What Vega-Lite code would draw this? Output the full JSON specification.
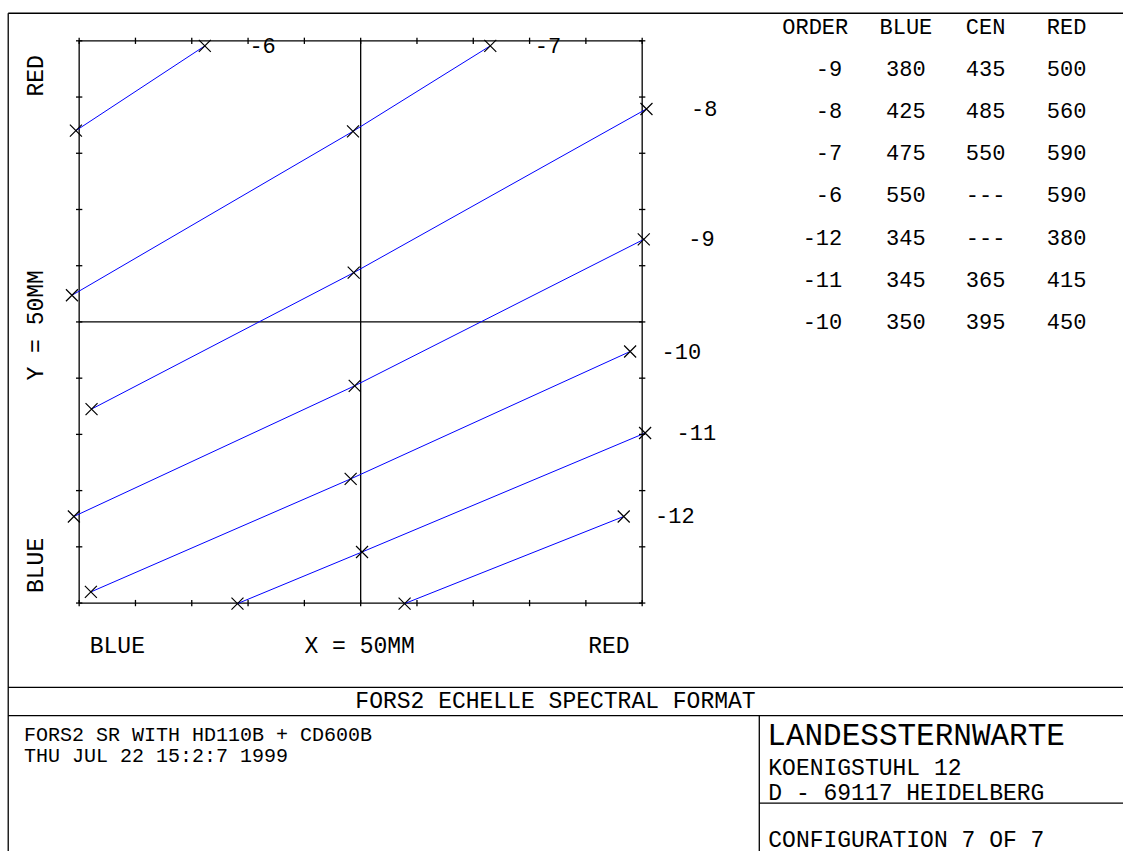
{
  "$schema": "https://vega.github.io/schema/vega-lite/v6.json",
  "width": 1124,
  "height": 853,
  "autosize": {"type": "fit", "contains": "padding"},
  "padding": 0,
  "background": "white",
  "config": {
    "view": {"stroke": null},
    "axis": {"disable": true},
    "text": {"font": "Liberation Mono", "color": "#000"}
  },
  "datasets": {
    "orders": [
      {"order": "-6", "end": "BLUE", "pt": 0, "x": -25.29, "y": 17.01},
      {"order": "-6", "end": "RED", "pt": 2, "x": -13.84, "y": 24.55},
      {"order": "-7", "end": "BLUE", "pt": 0, "x": -25.64, "y": 2.37},
      {"order": "-7", "end": "CEN", "pt": 1, "x": -0.68, "y": 16.95},
      {"order": "-7", "end": "RED", "pt": 2, "x": 11.51, "y": 24.55},
      {"order": "-8", "end": "BLUE", "pt": 0, "x": -23.9, "y": -7.75},
      {"order": "-8", "end": "CEN", "pt": 1, "x": -0.62, "y": 4.38},
      {"order": "-8", "end": "RED", "pt": 2, "x": 25.38, "y": 18.94},
      {"order": "-9", "end": "BLUE", "pt": 0, "x": -25.47, "y": -17.3},
      {"order": "-9", "end": "CEN", "pt": 1, "x": -0.53, "y": -5.68},
      {"order": "-9", "end": "RED", "pt": 2, "x": 25.14, "y": 7.34},
      {"order": "-10", "end": "BLUE", "pt": 0, "x": -23.96, "y": -24.01},
      {"order": "-10", "end": "CEN", "pt": 1, "x": -0.89, "y": -13.96},
      {"order": "-10", "end": "RED", "pt": 2, "x": 23.93, "y": -2.63},
      {"order": "-11", "end": "BLUE", "pt": 0, "x": -10.94, "y": -25.05},
      {"order": "-11", "end": "CEN", "pt": 1, "x": 0.12, "y": -20.46},
      {"order": "-11", "end": "RED", "pt": 2, "x": 25.26, "y": -9.88},
      {"order": "-12", "end": "BLUE", "pt": 0, "x": 3.9, "y": -25.05},
      {"order": "-12", "end": "RED", "pt": 2, "x": 23.36, "y": -17.3}
    ],
    "segments": [
      {"x": -31.3, "y": 27.45, "x2": 67.7, "y2": 27.45},
      {"x": -31.3, "y": 27.45, "x2": -31.3, "y2": -47.05},
      {"x": -31.3, "y": -32.5, "x2": 67.7, "y2": -32.5},
      {"x": -31.3, "y": -35.01, "x2": 67.7, "y2": -35.01},
      {"x": 35.4, "y": -35.01, "x2": 35.4, "y2": -47.05},
      {"x": 35.4, "y": -42.8, "x2": 67.7, "y2": -42.8},
      {"x": -25, "y": -25, "x2": 25, "y2": -25},
      {"x": -25, "y": 25, "x2": 25, "y2": 25},
      {"x": -25, "y": -25, "x2": -25, "y2": 25},
      {"x": 25, "y": -25, "x2": 25, "y2": 25},
      {"x": 0, "y": -25, "x2": 0, "y2": 25},
      {"x": -25, "y": 0, "x2": 25, "y2": 0}
    ],
    "tickpos": [
      {"pos": -25}, {"pos": -20}, {"pos": -15}, {"pos": -10}, {"pos": -5}, {"pos": 0},
      {"pos": 5}, {"pos": 10}, {"pos": 15}, {"pos": 20}, {"pos": 25}
    ],
    "vlabels": [
      {"label": "RED", "x": -28.84, "y": 21.89},
      {"label": "Y = 50MM", "x": -28.84, "y": -0.3},
      {"label": "BLUE", "x": -28.84, "y": -21.65}
    ],
    "hlabels": [
      {"label": "BLUE", "x": -21.61, "y": -28.78},
      {"label": "X = 50MM", "x": -0.09, "y": -28.78},
      {"label": "RED", "x": 22.05, "y": -28.78}
    ],
    "title": [
      {"label": "FORS2 ECHELLE SPECTRAL FORMAT", "x": 17.3, "y": -33.74}
    ],
    "notes": [
      {"label": "FORS2 SR WITH HD110B + CD600B", "x": -29.9, "y": -37.29},
      {"label": "THU JUL 22 15:2:7 1999", "x": -29.9, "y": -39.16}
    ],
    "inst": [
      {"label": "LANDESSTERNWARTE", "x": 36.11, "y": -37.65}
    ],
    "addr": [
      {"label": "KOENIGSTUHL 12", "x": 36.2, "y": -40.28},
      {"label": "D - 69117 HEIDELBERG", "x": 36.2, "y": -42.5},
      {"label": "CONFIGURATION 7 OF 7", "x": 36.2, "y": -46.72}
    ],
    "table": [
      {"row": 0, "order": "ORDER", "blue": "BLUE", "cen": "CEN", "red": "RED"},
      {"row": 1, "order": "-9", "blue": "380", "cen": "435", "red": "500"},
      {"row": 2, "order": "-8", "blue": "425", "cen": "485", "red": "560"},
      {"row": 3, "order": "-7", "blue": "475", "cen": "550", "red": "590"},
      {"row": 4, "order": "-6", "blue": "550", "cen": "---", "red": "590"},
      {"row": 5, "order": "-12", "blue": "345", "cen": "---", "red": "380"},
      {"row": 6, "order": "-11", "blue": "345", "cen": "365", "red": "415"},
      {"row": 7, "order": "-10", "blue": "350", "cen": "395", "red": "450"}
    ]
  },
  "resolve": {"scale": {"y": "independent"}},
  "layer": [
    {
      "encoding": {
        "x": {"field": "x", "type": "quantitative", "scale": {"domain": [-32.03, 67.7], "nice": false, "zero": false}},
        "y": {"field": "y", "type": "quantitative", "scale": {"domain": [-47.05, 28.63], "nice": false, "zero": false}}
      },
      "layer": [
        {
          "data": {"name": "segments"},
          "mark": {"type": "rule", "color": "#000", "strokeWidth": 1.3},
          "encoding": {"x2": {"field": "x2"}, "y2": {"field": "y2"}}
        },
        {
          "data": {"name": "orders"},
          "mark": {"type": "line", "color": "#0000ff", "strokeWidth": 1},
          "encoding": {"detail": {"field": "order", "type": "nominal"}, "order": {"field": "pt", "type": "quantitative"}}
        },
        {
          "data": {"name": "orders"},
          "mark": {"type": "point", "shape": "M-1,-1L1,1M-1,1L1,-1", "size": 144, "filled": false, "stroke": "#000", "strokeWidth": 1.2, "opacity": 1},
          "encoding": {}
        },
        {
          "data": {"name": "orders"},
          "transform": [{"filter": "datum.end === 'RED'"}],
          "mark": {"type": "text", "align": "right", "baseline": "middle", "dx": 71, "fontSize": 22},
          "encoding": {"text": {"field": "order"}}
        },
        {
          "data": {"name": "vlabels"},
          "mark": {"type": "text", "align": "center", "baseline": "middle", "angle": 270, "fontSize": 23},
          "encoding": {"text": {"field": "label"}}
        },
        {
          "data": {"name": "hlabels"},
          "mark": {"type": "text", "align": "center", "baseline": "middle", "fontSize": 23},
          "encoding": {"text": {"field": "label"}}
        },
        {
          "data": {"name": "title"},
          "mark": {"type": "text", "align": "center", "baseline": "middle", "fontSize": 23},
          "encoding": {"text": {"field": "label"}}
        },
        {
          "data": {"name": "notes"},
          "mark": {"type": "text", "align": "left", "baseline": "alphabetic", "fontSize": 20},
          "encoding": {"text": {"field": "label"}}
        },
        {
          "data": {"name": "inst"},
          "mark": {"type": "text", "align": "left", "baseline": "alphabetic", "fontSize": 31},
          "encoding": {"text": {"field": "label"}}
        },
        {
          "data": {"name": "addr"},
          "mark": {"type": "text", "align": "left", "baseline": "alphabetic", "fontSize": 23},
          "encoding": {"text": {"field": "label"}}
        }
      ]
    },
    {
      "data": {"name": "tickpos"},
      "layer": [
        {
          "mark": {"type": "rule", "color": "#000", "strokeWidth": 1.3},
          "encoding": {
            "x": {"field": "pos", "type": "quantitative", "scale": {"domain": [-32.03, 67.7], "nice": false, "zero": false}},
            "y": {"datum": 24.72, "type": "quantitative", "scale": {"domain": [-47.05, 28.63], "nice": false, "zero": false}},
            "y2": {"datum": 25.28}
          }
        },
        {
          "mark": {"type": "rule", "color": "#000", "strokeWidth": 1.3},
          "encoding": {
            "x": {"field": "pos", "type": "quantitative"},
            "y": {"datum": -25.28, "type": "quantitative"},
            "y2": {"datum": -24.72}
          }
        },
        {
          "mark": {"type": "rule", "color": "#000", "strokeWidth": 1.3},
          "encoding": {
            "y": {"field": "pos", "type": "quantitative"},
            "x": {"datum": -25.28, "type": "quantitative"},
            "x2": {"datum": -24.72}
          }
        },
        {
          "mark": {"type": "rule", "color": "#000", "strokeWidth": 1.3},
          "encoding": {
            "y": {"field": "pos", "type": "quantitative"},
            "x": {"datum": 24.72, "type": "quantitative"},
            "x2": {"datum": 25.28}
          }
        }
      ]
    },
    {
      "data": {"name": "table"},
      "encoding": {
        "y": {"field": "row", "type": "quantitative", "scale": {"domain": [-0.635, 19.547], "reverse": true, "nice": false, "zero": false}}
      },
      "layer": [
        {
          "transform": [{"filter": "datum.row == 0"}],
          "mark": {"type": "text", "align": "center", "baseline": "middle", "fontSize": 22},
          "encoding": {"x": {"datum": 40.37, "type": "quantitative", "scale": {"domain": [-32.03, 67.7], "nice": false, "zero": false}}, "text": {"field": "order"}}
        },
        {
          "transform": [{"filter": "datum.row > 0"}],
          "mark": {"type": "text", "align": "right", "baseline": "middle", "fontSize": 22},
          "encoding": {"x": {"datum": 42.77, "type": "quantitative"}, "text": {"field": "order"}}
        },
        {
          "mark": {"type": "text", "align": "center", "baseline": "middle", "fontSize": 22},
          "encoding": {"x": {"datum": 48.42, "type": "quantitative"}, "text": {"field": "blue"}}
        },
        {
          "mark": {"type": "text", "align": "center", "baseline": "middle", "fontSize": 22},
          "encoding": {"x": {"datum": 55.5, "type": "quantitative"}, "text": {"field": "cen"}}
        },
        {
          "mark": {"type": "text", "align": "center", "baseline": "middle", "fontSize": 22},
          "encoding": {"x": {"datum": 62.69, "type": "quantitative"}, "text": {"field": "red"}}
        }
      ]
    }
  ]
}
